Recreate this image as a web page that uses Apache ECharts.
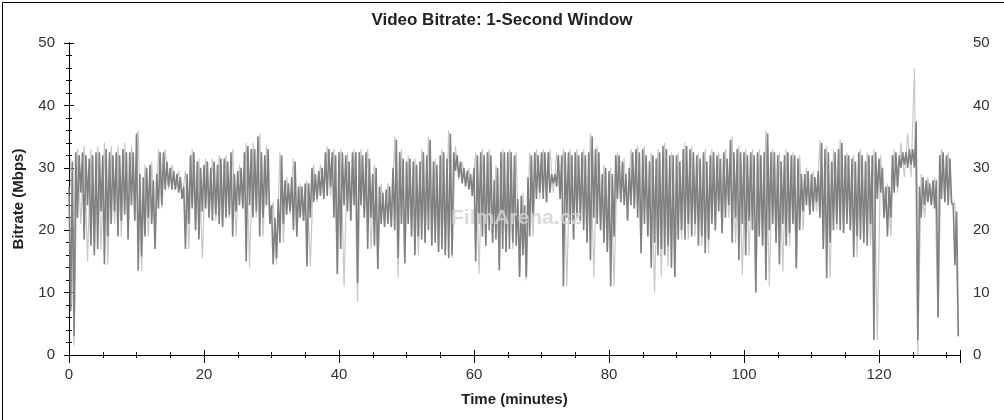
<!DOCTYPE html>
<html>
<head>
<meta charset="utf-8">
<script src="https://cdn.jsdelivr.net/npm/echarts@6/dist/echarts.min.js"></script>
<style>
html,body{margin:0;padding:0;background:#fff;}
#chart{width:1004px;height:420px;}
</style>
</head>
<body>
<div id="chart"></div>
<script>
// ---- data (Mbps) ----
// main trace: 0.5-minute bins, peak and dip of each bin
const BIN = 0.5;
const darkHi = [
27,31,32.5,32,32.5,32,31.5,32,32.5,32.5,
32,33,32.5,32,32.5,32,33,32.5,32.5,32.5,
35.5,29,28.5,30,30.5,28,29,32.5,32.5,31,
30,29.5,29,28.5,27,29,32,32.5,31,30,
30.5,31,30,31,30.5,31.5,31.5,31,32.5,29,
29.5,30,32.5,33.5,33,33,35,32.5,32,33,
24,22,25,32,28,27.5,28.5,31,27,27,
27.5,27.5,30,29,29.5,30,32.5,33,32.5,32,
32.5,32.5,32,31,32.5,32.5,32.5,32,32.5,31.5,
29,30,27,26,26.5,27,30,34.5,32.5,31.5,
31,31.5,31,30.5,31,32.5,32,34.5,31,30.5,
32,32.5,31.5,35.5,32.5,32,31,30,29.5,29,
30,32,32.5,32,32.5,32,28,30,32.5,32.5,
32.5,32.5,32,25,25.5,24,28.5,32,32.5,32,
32.5,32.5,32.5,29,29,32,32,32.5,32.5,32,
32.5,32,32.5,32,32.5,35,33,32.5,29,30,
29.5,29,32,32,31,29,30,32.5,33,32.5,
33,32,31,32,31.5,32.5,33.5,33,32,32,
32,31,33,33.5,33,32.5,32,31.5,32.5,31,
32,32.5,32,31.5,32.5,31.5,34.5,32.5,33,32.5,
32.5,32,32.5,32,32.5,32,32.5,35.5,32.5,32.5,
32,31,32,32.5,32,32,31.5,29,29,29.5,
29,28.5,29.5,34,33,32.5,31,32.5,33,34,
32,32,31.5,31,32.5,32,31,32,32,32.5,
31.5,30,27,27,32,32.5,32,32.5,32.5,33,
33,37.4,27,28.5,28,27.5,28,28,32,32.5,
32,31.5,24,23
];
const darkLo = [
7,3,22,26,18.5,24,17.5,16,17,23,
14.5,19,21,23,19,21.5,22.5,18.5,24,21.5,
13.5,15.8,19,22,21,17,23.5,24,26.5,27,
26.5,26.5,26,25,17,21,23.5,20,18.5,23,
23.5,22,21.5,22.5,21,20.5,22,22.5,19,23,
24,23.5,15,24,22,23,19,22,24,21,
14.5,15.5,18,21,22.5,23,20,19,22,21.5,
14.2,22,24.5,25,25.5,25,25.5,27,22,13,
17,24,23,21.5,24,11.5,24,22,17,22,
17.5,13.8,21,20.5,21,20.5,20,15.5,21,14.7,
21,19,16,19,18.5,18,20,17.5,18,16.5,
17,16,15.5,16,29.5,28.5,27.5,27,26.5,25.5,
15,21,19,17.5,20,18,18.5,13.6,17,16.5,
17,18,17.5,12.5,16,12.5,19,22,25,26,
25,24.5,26,27.5,27,25,11,22,21,18.5,
22,21.5,20,18,15.2,22,21,20,18,16.5,
11,19,25,24.5,24,21.5,24,23.5,22,16.3,
21,19,14,18,16,17,16,17.5,14,12.5,
18.5,20,18.5,21,19,21,17.5,19,16.3,18.5,
21,20,23,19.5,22,24,18,22,15.2,21,
16,21.5,20,10,19,17.5,12,20,21,18,
14.5,21,17.5,19.5,21,13.9,20,23,24,22.5,
23,24.5,22,17,12.3,18,20,21,20,19.5,
21,20,15.7,19,18.5,18,17.5,21,2.4,25,
26,22,19,22,26,27,30,30.5,30,30.5,
30,2.4,22,24,24.5,24,23.5,6,25,24.5,
24,24.5,14.4,3
];
// lighter trace: 1-minute bins, peak and dip of each bin
const LBIN = 1;
const lightHi = [
31.5,33,33.5,33,33.5,34,33.5,33.5,34,33.5,
36,30.5,31,33,33,30.5,29.5,29.5,33,31.5,
31.5,31.5,32,32,33,30.5,34,34,35.5,33.5,
24.5,32.5,28.5,31.5,27.5,28,30.5,30.5,33.5,33,
33,32.5,33,33,33,30.5,27.5,27.5,35,33,
32,31.5,33,35,31.5,33,36,33.5,31,30,
32.5,33,33,30.5,33,33,32.5,26,32.5,33,
33,33,32.5,33,33,33,33,35.5,33.5,30.5,
30,32.5,31.5,33,33.5,33.5,32.5,33,34,32.5,
32.5,34,33.5,32.5,33,33,32.5,33,35,33.5,
33,33,33,36,33,32.5,33,32.5,32,30,
29.5,34.5,33.5,33,34.5,32.5,32,33,32.5,33,
32,27.5,33,34,35.5,46,29,28.5,28.5,33,
32.5,24.5
];
const lightLo = [
1.5,21,15,16.5,17,14.5,21,19,18.5,21.5,
13.5,19,17,23.5,26.5,26.5,25,17,20,15.5,
22,21.5,20.5,22,19,23.5,14,22,19,21,
14.5,18,22.5,19,21.5,14.2,24.5,25,25.5,13,
11,21.5,8.5,22,17,13.8,20.5,20.5,12.5,14.7,
19,16,18,17.5,16.5,16,15.5,28,27,25.5,
13,17.5,18,13.6,16.5,17,12.5,12,19,25,
24.5,26,25,11,18.5,21.5,18,12.5,20,16.5,
11,24.5,21.5,23.5,16.3,19,10,12.5,14.2,12.5,
18.5,18.5,19,17.5,16.3,20,19.5,22,18,12.8,
16,10,17.5,11,18,13.4,17.5,13.9,20,22.5,
23,17,12.3,20,19.5,20,15.7,18,17.5,2.4,
22,19,26,28.5,28.5,0,22,24,6,24.5,
24,3
];
const X_MIN = 0, X_MAX = 132, X_STEP = 20;
const Y_MIN = 0, Y_MAX = 50, Y_STEP = 10;
const TITLE = 'Video Bitrate: 1-Second Window';
const X_NAME = 'Time (minutes)';
const Y_NAME = 'Bitrate (Mbps)';

// ---- build series points from the arrays ----
const darkData = [];
darkHi.forEach((h, k) => {
  darkData.push([k * BIN, h]);
  darkData.push([k * BIN + BIN / 2, darkLo[k]]);
});
const lightData = [];
lightHi.forEach((h, k) => {
  lightData.push([k * LBIN + LBIN / 4, h]);
  lightData.push([k * LBIN + 3 * LBIN / 4, lightLo[k]]);
});

const FONT = 'Liberation Sans, Arial, sans-serif';
const lineStyle = { color: '#000', width: 1 };

function xAx(pos, inside, len, mlen, extra) {
  return Object.assign({
    type: 'value', min: X_MIN, max: X_MAX, interval: X_STEP, position: pos,
    axisLine: { show: true, lineStyle },
    axisTick: { show: true, inside, length: len, lineStyle },
    minorTick: { show: true, splitNumber: 4, length: mlen, lineStyle },
    axisLabel: { show: false },
    splitLine: { show: false }
  }, extra || {});
}
function yAx(pos, inside, len, mlen, extra) {
  return Object.assign({
    type: 'value', min: Y_MIN, max: Y_MAX, interval: Y_STEP, position: pos,
    axisLine: { show: true, lineStyle },
    axisTick: { show: true, inside, length: len, lineStyle },
    minorTick: { show: true, splitNumber: 5, length: mlen, lineStyle },
    axisLabel: { show: false },
    splitLine: { show: false }
  }, extra || {});
}
const labelStyle = { show: true, fontSize: 15, color: '#333', fontFamily: FONT };

const chart = echarts.init(document.getElementById('chart'), null, { renderer: 'canvas' });
chart.setOption({
  animation: false,
  backgroundColor: '#fff',
  title: {
    text: TITLE, left: 'center', top: 12, padding: 0,
    textStyle: { fontSize: 17, fontWeight: 'bold', color: '#222', fontFamily: FONT }
  },
  grid: { left: 69, right: 44, top: 43, bottom: 65, containLabel: false },
  xAxis: [
    xAx('bottom', true, 5, 3, {
      axisLabel: Object.assign({ margin: 12, showMaxLabel: false }, labelStyle),
      name: X_NAME, nameLocation: 'middle', nameGap: 37,
      nameTextStyle: { fontSize: 15, fontWeight: 'bold', color: '#222', fontFamily: FONT }
    }),
    xAx('bottom', false, 5, 2),
    xAx('top', true, 8, 3),
    xAx('top', false, 3, 2)
  ],
  yAxis: [
    yAx('left', true, 5, 3, {
      axisLabel: Object.assign({ margin: 14 }, labelStyle),
      name: Y_NAME, nameLocation: 'middle', nameGap: 43,
      nameTextStyle: { fontSize: 15, fontWeight: 'bold', color: '#222', fontFamily: FONT }
    }),
    yAx('left', false, 5, 2),
    yAx('right', true, 5, 3, { axisLabel: Object.assign({ margin: 13 }, labelStyle) }),
    yAx('right', false, 5, 2)
  ],
  graphic: [
    { type: 'rect', left: 0, top: 0, shape: { x: 0, y: 0, width: 1003, height: 419 },
      style: { fill: 'none', stroke: '#000', lineWidth: 1 }, silent: true, z: 200, position: [0.5, 0.5] },
    { type: 'text', left: 451, top: 208, z: 150, silent: true,
      style: { text: 'FilmArena.cz', fontSize: 21, fontWeight: 'bold', fontFamily: FONT,
               fill: 'rgba(212,212,212,0.85)' } }
  ],
  series: [
    { type: 'line', xAxisIndex: 0, yAxisIndex: 0, data: lightData, showSymbol: false,
      symbol: 'none', lineStyle: { color: '#c8c8c8', width: 1.2 }, z: 2, silent: true },
    { type: 'line', xAxisIndex: 0, yAxisIndex: 0, data: darkData, showSymbol: false,
      symbol: 'none', lineStyle: { color: '#808080', width: 1.6 }, z: 3, silent: true }
  ]
});
</script>
</body>
</html>
